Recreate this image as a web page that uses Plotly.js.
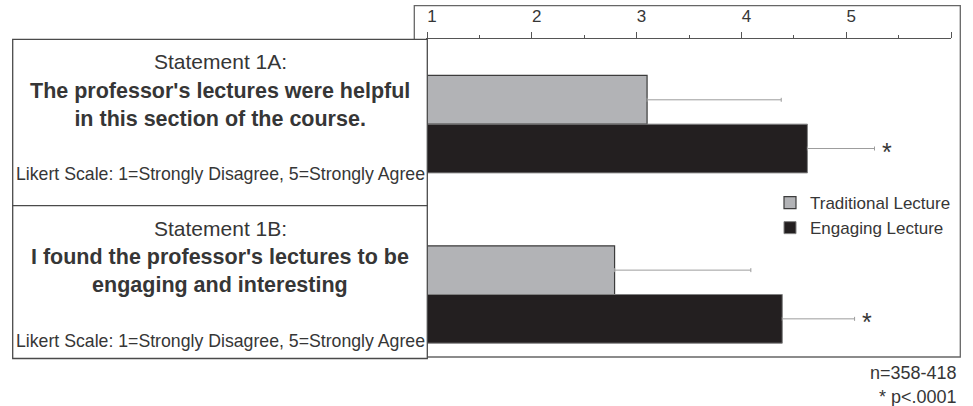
<!DOCTYPE html>
<html>
<head>
<meta charset="utf-8">
<script src="https://cdn.plot.ly/plotly-3.0.1.min.js"></script>
<style>html,body{margin:0;padding:0;background:#fff;}#chart{width:973px;height:406px;}</style>
</head>
<body>
<div id="chart"></div>
<script>
// ---- data ----
const categories = ['1A', '1B'];
const seriesNames = ['Traditional Lecture', 'Engaging Lecture'];
const traditional = [3.10, 2.79];
const traditionalErr = [1.28, 1.30];
const engaging = [4.63, 4.39];
const engagingErr = [0.64, 0.69];
const xTickVals = [1, 2, 3, 4, 5, 6];
const xTickText = ['1', '2', '3', '4', '5', ''];
const statementTitles = ['Statement 1A:', 'Statement 1B:'];
const statementTexts = [
  "The professor's lectures were helpful<br>in this section of the course.",
  "I found the professor's lectures to be<br>engaging and interesting"
];
const scaleNote = 'Likert Scale: 1=Strongly Disagree, 5=Strongly Agree';
const significant = [true, true];
const sigMark = '*';
const footnotes = ['n=358-418', '* p<.0001'];

// ---- layout geometry (pixels) ----
const W = 973, H = 406;
const PL = 427, PR = 951, PT = 39, PB = 357;
const px2x = px => (px - PL) / (PR - PL);
const px2y = py => (PB - py) / (PB - PT);
const FONT = 'Liberation Sans, Arial, Helvetica, sans-serif';
const TXT = '#363636';

const traces = [
  {
    type: 'bar', orientation: 'h', name: seriesNames[0],
    y: categories, x: traditional,
    marker: {color: '#b2b3b6', line: {color: '#3c3c3c', width: 1.2}},
    error_x: {type: 'data', symmetric: false, array: traditionalErr,
              arrayminus: traditionalErr.map(() => 0), color: '#9c9c9c', thickness: 1, width: 2},
    hoverinfo: 'x+name'
  },
  {
    type: 'bar', orientation: 'h', name: seriesNames[1],
    y: categories, x: engaging,
    marker: {color: '#231f20', line: {color: '#808080', width: 1}},
    error_x: {type: 'data', symmetric: false, array: engagingErr,
              arrayminus: engagingErr.map(() => 0), color: '#9c9c9c', thickness: 1, width: 2},
    hoverinfo: 'x+name'
  }
];

const boxTops = [39.3, 205.7];
const boxBottom = 358.5;
const boxLeft = 12.7, boxRight = 427.3;
const shapes = [];
// outer chart frame
shapes.push({type: 'rect', xref: 'paper', yref: 'paper', layer: 'below',
  x0: px2x(414.3), x1: px2x(960.3), y0: px2y(357), y1: px2y(5.7),
  line: {color: '#666', width: 1.3}, fillcolor: 'rgba(0,0,0,0)'});
const annotations = [];
boxTops.forEach((top, i) => {
  const bottom = i + 1 < boxTops.length ? boxTops[i + 1] : boxBottom;
  shapes.push({type: 'rect', xref: 'paper', yref: 'paper', layer: 'above',
    x0: px2x(boxLeft), x1: px2x(boxRight), y0: px2y(bottom), y1: px2y(top),
    line: {color: '#4a4a4a', width: 1.3}, fillcolor: '#fff'});
  const cx = px2x((boxLeft + boxRight) / 2);
  annotations.push({xref: 'paper', yref: 'paper', x: cx, y: px2y(top + 22.5),
    text: statementTitles[i], showarrow: false, xanchor: 'center', yanchor: 'middle',
    font: {family: FONT, size: 21, color: TXT}});
  annotations.push({xref: 'paper', yref: 'paper', x: cx, y: px2y(top + 65.5),
    text: '<b>' + statementTexts[i] + '</b>', showarrow: false, xanchor: 'center', yanchor: 'middle',
    font: {family: FONT, size: 21.5, color: TXT}});
  annotations.push({xref: 'paper', yref: 'paper', x: cx, y: px2y(top + 135),
    text: scaleNote, showarrow: false, xanchor: 'center', yanchor: 'middle',
    font: {family: FONT, size: 17.7, color: TXT}});
});
categories.forEach((c, i) => {
  if (!significant[i]) return;
  annotations.push({x: engaging[i] + engagingErr[i], y: c, xref: 'x', yref: 'y',
    text: sigMark, showarrow: false, xanchor: 'center', yanchor: 'middle',
    xshift: 12, yshift: -28, font: {family: FONT, size: 25, color: TXT}});
});
footnotes.forEach((t, i) => {
  annotations.push({xref: 'paper', yref: 'paper', x: px2x(959), y: px2y(373 + 24 * i),
    text: t, showarrow: false, xanchor: 'right', yanchor: 'middle',
    font: {family: FONT, size: 18, color: TXT}});
});

const layout = {
  width: W, height: H,
  margin: {l: PL, r: W - PR, t: PT, b: H - PB, pad: 0},
  paper_bgcolor: '#fff', plot_bgcolor: 'rgba(0,0,0,0)',
  barmode: 'group', bargap: 0.428, bargroupgap: 0,
  showlegend: true,
  legend: {x: px2x(770), y: px2y(185), xanchor: 'left', yanchor: 'top',
    traceorder: 'normal', bgcolor: 'rgba(0,0,0,0)',
    font: {family: FONT, size: 17, color: TXT}},
  xaxis: {
    side: 'top', range: [1, 6], showgrid: false, zeroline: false,
    showline: true, linecolor: '#555', linewidth: 1,
    tickmode: 'array', tickvals: xTickVals, ticktext: xTickText,
    ticks: 'outside', ticklen: 6, tickwidth: 1, tickcolor: '#555',
    minor: {dtick: 0.5, tick0: 1, ticks: 'outside', ticklen: 3.5, tickwidth: 1, tickcolor: '#555', showgrid: false},
    ticklabelshift: 5, ticklabelstandoff: 3,
    tickfont: {family: FONT, size: 17, color: TXT}
  },
  yaxis: {
    type: 'category', categoryorder: 'array', categoryarray: categories,
    range: [1.367, -0.5], showticklabels: false, showgrid: false, zeroline: false,
    showline: true, linecolor: '#555', linewidth: 1, ticks: ''
  },
  shapes: shapes,
  annotations: annotations
};

Plotly.newPlot('chart', traces, layout, {displayModeBar: false, staticPlot: true});
</script>
</body>
</html>
